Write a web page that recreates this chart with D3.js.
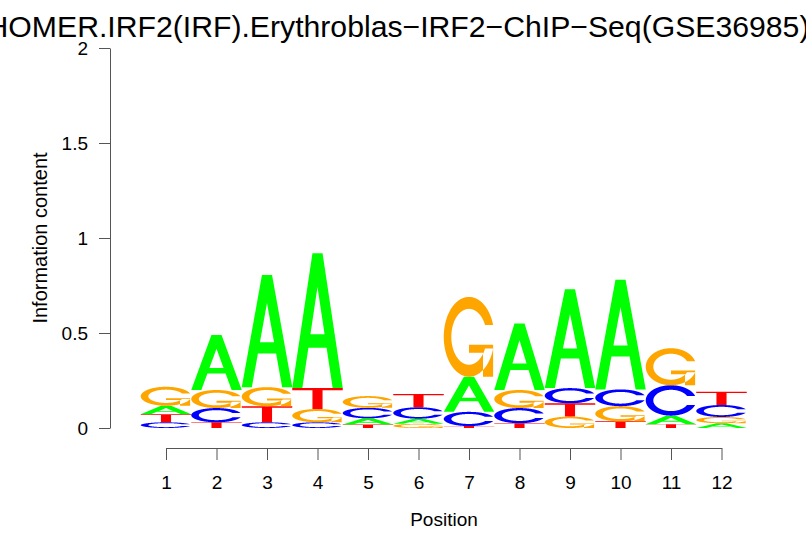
<!DOCTYPE html>
<html>
<head>
<meta charset="utf-8">
<script src="https://cdn.jsdelivr.net/npm/d3@7/dist/d3.min.js"></script>
<style>
  html, body { margin: 0; padding: 0; background: #fff; }
  svg { display: block; font-family: "Liberation Sans", Arial, Helvetica, sans-serif; }
</style>
</head>
<body>
<svg id="chart" width="806" height="559"></svg>
<script>
// ---- data ----
const title = "HOMER.IRF2(IRF).Erythroblas\u2212IRF2\u2212ChIP\u2212Seq(GSE36985)";
const positions = [1, 2, 3, 4, 5, 6, 7, 8, 9, 10, 11, 12];
const heightA = [0.045, 0.29, 0.59, 0.71, 0.033, 0.027, 0.185, 0.35, 0.52, 0.577, 0.045, 0.025];
const heightC = [0.030, 0.075, 0.03, 0.03, 0.055, 0.060, 0.075, 0.08, 0.08, 0.088, 0.160, 0.063];
const heightG = [0.100, 0.095, 0.10, 0.07, 0.062, 0.022, 0.420, 0.095, 0.06, 0.080, 0.195, 0.033];
const heightT = [0.042, 0.030, 0.085, 0.11, 0.018, 0.070, 0.010, 0.025, 0.07, 0.035, 0.020, 0.070];
const yTicks = [0, 0.5, 1, 1.5, 2];
const yTickLabels = ["0", "0.5", "1", "1.5", "2"];
const letterColors = { A: "#00FF00", C: "#0000FF", G: "#FFA500", T: "#FF0000" };

// ---- letter shapes (unit square, y up) ----
function cShape() {
  const n = 100;
  const seq = (a, b) => d3.range(n).map(i => a + (b - a) * i / (n - 1));
  const a1 = seq(0.3 + Math.PI / 2, Math.PI), a2 = seq(Math.PI, 1.5 * Math.PI);
  const xl = a1.map(a => 0.5 + 0.5 * Math.sin(a)).concat(a2.map(a => 0.5 + 0.5 * Math.sin(a)));
  const yl1 = a1.map(a => 0.5 + 0.5 * Math.cos(a));
  const yl = yl1.concat(a2.map(a => 0.5 + 0.5 * Math.cos(a)));
  const maxY1 = d3.max(yl1);
  const outer = xl.map((x, i) => [x, yl[i]]).concat(xl.slice().reverse().map((x, i) => [x, 1 - yl.slice().reverse()[i]]));
  let xi1 = a1.map(a => 0.5 + 0.35 * Math.sin(a)), yi1 = a1.map(a => 0.5 + 0.35 * Math.cos(a));
  const keep = yi1.map(y => y <= maxY1);
  xi1 = xi1.filter((_, i) => keep[i]); yi1 = yi1.filter((_, i) => keep[i]);
  yi1[0] = maxY1;
  const xi = xi1.concat(a2.map(a => 0.5 + 0.35 * Math.sin(a)));
  const yi = yi1.concat(a2.map(a => 0.5 + 0.35 * Math.cos(a)));
  const inner = xi.map((x, i) => [x, yi[i]]).concat(xi.slice().reverse().map((x, i) => [x, 1 - yi.slice().reverse()[i]]));
  return { pts: outer.concat(inner.slice().reverse()), r1: d3.max(xl.slice(0, n)) };
}
const shapes = (function () {
  const c = cShape();
  const r1 = c.r1, h1 = 0.4;
  return {
    A: [[[0,0],[0.4,1],[0.6,1],[1,0],[0.8,0],[0.68,0.3],[0.32,0.3],[0.2,0],[0,0]],
        [[0.36,0.4],[0.5,0.75],[0.64,0.4],[0.36,0.4]]],
    T: [[[0,1],[1,1],[1,0.9],[0.6,0.9],[0.6,0],[0.4,0],[0.4,0.9],[0,0.9]]],
    C: [c.pts],
    G: [c.pts, [[r1,h1],[0.5,h1],[0.5,h1-0.1],[r1-0.2,h1-0.1],[r1-0.2,0],[r1,0],[r1,h1]]]
  };
})();

// ---- layout ----
const svg = d3.select("#chart");
const x = d3.scaleLinear().domain([1, 12]).range([166, 721.5]);
const y = d3.scaleLinear().domain([0, 2]).range([428, 48]);

// letters
const heights = { A: heightA, C: heightC, G: heightG, T: heightT };
const gLetters = svg.append("g");
positions.forEach((p, i) => {
  const stack = ["A", "C", "G", "T"].map(l => ({ l, h: heights[l][i] })).sort((a, b) => a.h - b.h);
  let cum = 0;
  const x0 = x(p - 0.5), w = x(p + 0.5) - x(p - 0.5);
  stack.forEach(s => {
    const yb = y(cum), hp = y(cum) - y(cum + s.h);
    const d = shapes[s.l].map(poly => "M" + poly.map(([u, v]) => (x0 + u * w).toFixed(2) + "," + (yb - v * hp).toFixed(2)).join("L") + "Z").join("");
    gLetters.append("path").attr("d", d).attr("fill", letterColors[s.l]).attr("fill-rule", s.l === "A" ? "evenodd" : "nonzero");
    cum += s.h;
  });
});

// axes
const axisColor = "#555";
const yAxis = svg.append("g").attr("transform", "translate(110,0)")
  .call(d3.axisLeft(y).tickValues(yTicks).tickFormat((d, i) => yTickLabels[i]).tickSize(11).tickSizeOuter(0).tickPadding(11));
const xAxis = svg.append("g").attr("transform", "translate(0,448)")
  .call(d3.axisBottom(x).tickValues(positions).tickFormat(d3.format("d")).tickSize(12).tickSizeOuter(0).tickPadding(16));
[yAxis, xAxis].forEach(a => {
  a.selectAll("path, line").attr("stroke", axisColor);
  a.selectAll("text").attr("fill", "#000").style("font-size", "19px").style("font-family", '"Liberation Sans", Arial, sans-serif');
});

// titles
svg.append("text").attr("x", 398).attr("y", 37).attr("text-anchor", "middle")
  .style("font-size", "30.2px").text(title);
svg.append("text").attr("x", 444).attr("y", 526).attr("text-anchor", "middle")
  .style("font-size", "19px").text("Position");
svg.append("text").attr("transform", "translate(47,238) rotate(-90)").attr("text-anchor", "middle")
  .style("font-size", "20px").text("Information content");
</script>
</body>
</html>
